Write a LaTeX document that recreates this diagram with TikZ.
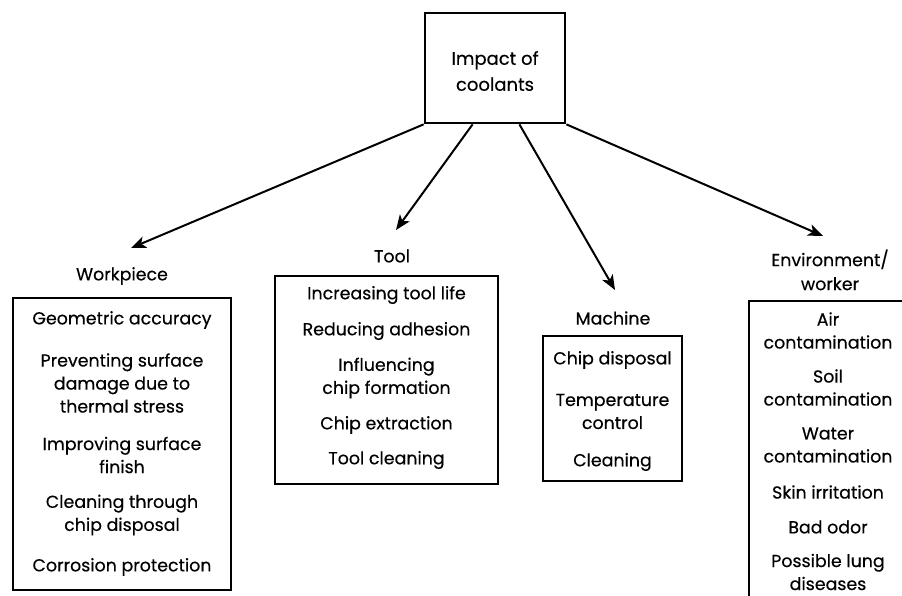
\documentclass[tikz,border=0pt]{standalone}
\usepackage{fontspec}
\setmainfont{Poppins}[FakeBold=0.35]
\usetikzlibrary{arrows.meta,calc}
\begin{document}
\begin{tikzpicture}[x=1pt,y=-1pt,
  box/.style={draw, line width=2.7pt, inner sep=0pt},
  itm/.style={align=center, font=\fontsize{17.4}{23}\selectfont, inner sep=0pt},
  lbl/.style={align=center, font=\fontsize{17.4}{24}\selectfont, inner sep=0pt},
  arr/.style={line width=2pt, -{Stealth[length=15pt,width=12pt,inset=4pt]}}]
\clip (0,0) rectangle (902,596);
\fill[white] (0,0) rectangle (902,596);

% central box
\node[box, minimum width=140pt, minimum height=110pt] (top) at (495,68) {};
\node[lbl, font=\fontsize{18}{26}\selectfont] (toptxt) at (495,71) {Impact of\\coolants};

% labels
\node[lbl] (wplbl) at (122,276) {Workpiece};
\node[lbl] (tllbl) at (392,256) {Tool};
\node[lbl] (mclbl) at (613,318) {Machine};
\node[lbl] (evlbl) at (830,270) {Environment/\\worker};

% arrow tips
\coordinate (wptip) at (131,248);
\coordinate (tltip) at (396,230);
\coordinate (mctip) at (615,290);
\coordinate (evtip) at (823,236);

\draw[arr] (top.south west) -- (wptip);
\draw[arr] ($(top.south west)!0.343!(top.south east)$) -- (tltip);
\draw[arr] ($(top.south west)!0.671!(top.south east)$) -- (mctip);
\draw[arr] (top.south east) -- (evtip);

% Workpiece box
\node[box, minimum width=218pt, minimum height=292pt] (wpbox) at (122,444) {};
\node[itm] (wp1) at (122,320) {Geometric accuracy};
\node[itm] (wp2) at (122,383) {Preventing surface\\damage due to\\thermal stress};
\node[itm] (wp3) at (122,455) {Improving surface\\finish};
\node[itm] (wp4) at (122,515) {Cleaning through\\chip disposal};
\node[itm] (wp5) at (122,567) {Corrosion protection};

% Tool box
\node[box, minimum width=223pt, minimum height=208pt] (tlbox) at (386.5,380) {};
\node[itm] (tl1) at (386.5,295) {Increasing tool life};
\node[itm] (tl2) at (386.5,331) {Reducing adhesion};
\node[itm] (tl3) at (386.5,378) {Influencing\\chip formation};
\node[itm] (tl4) at (386.5,425) {Chip extraction};
\node[itm] (tl5) at (386.5,460) {Tool cleaning};

% Machine box
\node[box, minimum width=139pt, minimum height=145pt] (mcbox) at (612.5,408.5) {};
\node[itm] (mc1) at (612.5,360) {Chip disposal};
\node[itm] (mc2) at (612.5,411.5) {Temperature\\control};
\node[itm] (mc3) at (612.5,462) {Cleaning};

% Environment box
\node[box, minimum width=166pt, minimum height=311pt] (evbox) at (832,456.5) {};
\node[itm] (ev1) at (828,330.5) {Air\\contamination};
\node[itm] (ev2) at (828,387.5) {Soil\\contamination};
\node[itm] (ev3) at (828,445) {Water\\contamination};
\node[itm] (ev4) at (828,492) {Skin irritation};
\node[itm] (ev5) at (828,527) {Bad odor};
\node[itm] (ev6) at (828,572) {Possible lung\\diseases};
\end{tikzpicture}
\end{document}
